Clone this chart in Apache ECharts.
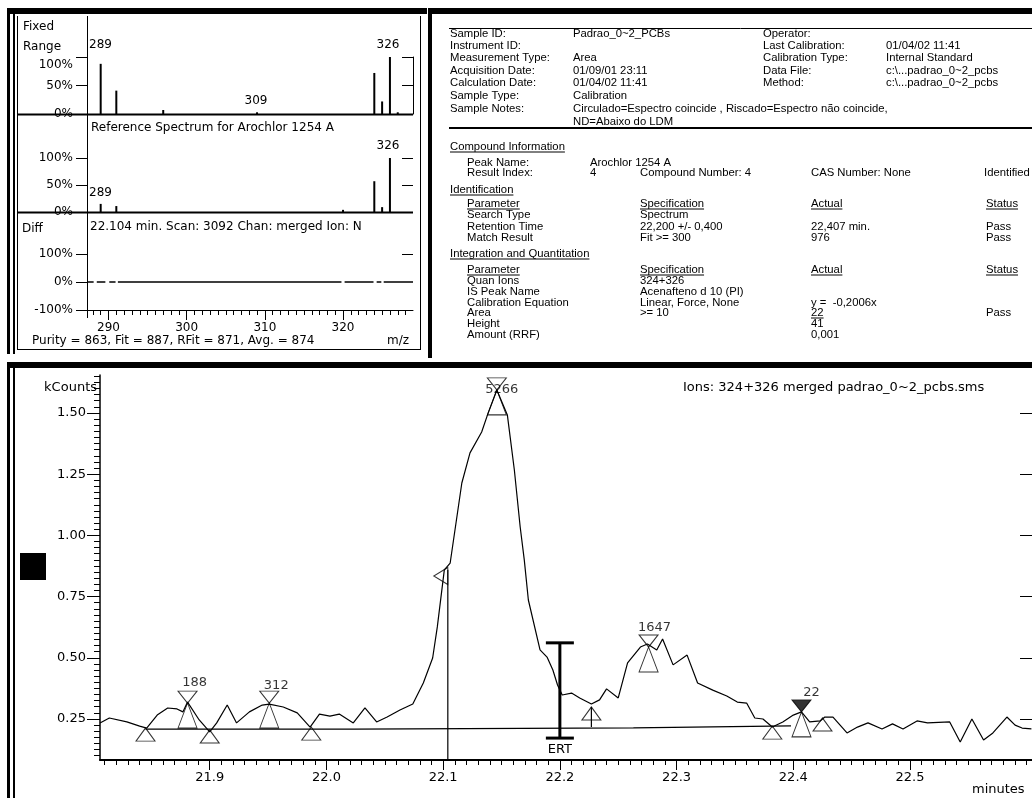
<!DOCTYPE html>
<html>
<head>
<meta charset="utf-8">
<script src="https://cdn.jsdelivr.net/npm/echarts@6/dist/echarts.min.js"></script>
<style>
  html, body { margin: 0; padding: 0; background: #fff; }
  #main { width: 1032px; height: 798px; }
</style>
</head>
<body>
<div id="main"></div>
<script>
// ---- spectrum (m/z, % of base peak) ----
var sampleMz  = [289, 291, 297, 309, 324, 325, 326, 327];
var sampleInt = [88, 41, 7, 3, 72, 22, 100, 3];
var refMz  = [289, 291, 320, 324, 325, 326];
var refInt = [15, 11, 4, 57, 9, 100];
// difference trace, broken where the two spectra differ slightly
var diffMz  = [287.25, 288.1, 288.3, 288.5, 289.6, 289.8, 290.1, 290.9, 291.05, 291.2, 319.8, 320, 320.2, 323.9, 324.1, 324.3, 324.9, 325.05, 325.2, 328.95];
var diffPct = [0, 0, null, 0, 0, null, 0, 0, null, 0, 0, null, 0, 0, null, 0, 0, null, 0, 0];
var mzTickLabels = [290, 300, 310, 320];
var pctTicks = [0, 50, 100];
var diffTicks = [-100, 0, 100];

// ---- chromatogram (minutes, kCounts) ----
var rtTime = [21.806, 21.814, 21.829, 21.840, 21.846, 21.855, 21.864, 21.872, 21.877, 21.881,
  21.891, 21.900, 21.906, 21.915, 21.923, 21.934, 21.945, 21.951, 21.963, 21.975,
  21.986, 21.994, 22.003, 22.011, 22.023, 22.033, 22.043, 22.052, 22.063, 22.074,
  22.083, 22.091, 22.095, 22.101, 22.106, 22.116, 22.123, 22.133, 22.138, 22.146,
  22.155, 22.161, 22.166, 22.1695, 22.173, 22.183, 22.189, 22.194, 22.198, 22.202,
  22.210, 22.217, 22.227, 22.234, 22.240, 22.250, 22.258, 22.269, 22.275, 22.283,
  22.288, 22.297, 22.309, 22.318, 22.331, 22.343, 22.352, 22.360, 22.367, 22.374,
  22.382, 22.391, 22.400, 22.407, 22.414, 22.423, 22.427, 22.434, 22.446, 22.455,
  22.464, 22.476, 22.485, 22.494, 22.506, 22.515, 22.534, 22.543, 22.553, 22.563,
  22.571, 22.583, 22.590, 22.596, 22.604];
var kCounts = [0.234, 0.254, 0.238, 0.221, 0.213, 0.266, 0.295, 0.291, 0.279, 0.319,
  0.246, 0.197, 0.234, 0.307, 0.234, 0.279, 0.307, 0.311, 0.299, 0.275,
  0.217, 0.270, 0.262, 0.270, 0.234, 0.295, 0.238, 0.258, 0.287, 0.311,
  0.397, 0.499, 0.626, 0.859, 0.887, 1.214, 1.337, 1.422, 1.492, 1.594,
  1.492, 1.267, 1.034, 0.900, 0.736, 0.532, 0.503, 0.450, 0.389, 0.348,
  0.356, 0.336, 0.311, 0.328, 0.373, 0.336, 0.479, 0.544, 0.556, 0.532,
  0.577, 0.471, 0.511, 0.397, 0.368, 0.344, 0.319, 0.315, 0.254, 0.250,
  0.217, 0.238, 0.266, 0.279, 0.238, 0.242, 0.258, 0.258, 0.193, 0.217,
  0.234, 0.209, 0.230, 0.209, 0.242, 0.234, 0.238, 0.156, 0.250, 0.164,
  0.193, 0.258, 0.225, 0.213, 0.210];
var baseTime = [21.845, 22.024, 22.024, 22.263, 22.263, 22.398];
var baseVal  = [0.209, 0.209, 0.214, 0.214, 0.222, 0.222];
var peakTime   = [21.881, 21.951, 22.146, 22.276, 22.407];
var peakHeight = [0.315, 0.315, 1.594, 0.544, 0.279];
var peakArea   = ['188', '312', '5266', '1647', '22'];
var boundTime   = [21.845, 21.900, 21.987, 22.227, 22.382, 22.425];
var boundHeight = [0.213, 0.205, 0.217, 0.299, 0.221, 0.254];
var splitTime = 22.227, splitTop = 0.299, splitBottom = 0.217;
var scanTime = 22.104, scanTop = 0.86, cursorVal = 0.834;
var ertTime = 22.2, ertLow = 0.172, ertHigh = 0.561;
var rtTicks = [21.9, 22.0, 22.1, 22.2, 22.3, 22.4, 22.5];
var countTicks = [0.25, 0.5, 0.75, 1.0, 1.25, 1.5];

var MZ_MIN = 287.25, MZ_MAX = 328.95;
var RT_MIN = 21.806, RT_MAX = 22.6045;
var K_MIN = 0.0825, K_MAX = 1.655;

var mzMinor = [];
for (var m = 288; m <= 328; m++) mzMinor.push(m);
var rtMinor = [];
for (var i = 0; i <= 80; i++) rtMinor.push(+(21.81 + i * 0.01).toFixed(2));
var countMinor = [];
for (var j = 4; j <= 66; j++) countMinor.push(+(j * 0.025).toFixed(3));

var F_SMALL = "11.3px 'Liberation Sans'";
var F_LBL = "12px 'DejaVu Sans'";
var F_BIG = "13px 'DejaVu Sans'";

// ---- helpers for frames and free text ----
var g = [];
var mctx = document.createElement('canvas').getContext('2d');
function tw(s, font) { mctx.font = font; return mctx.measureText(s).width; }
function txt(x, y, s, font, align, extra) {
  var st = { text: s, font: font, fill: '#000', align: align || 'left', verticalAlign: 'middle' };
  if (extra) for (var k in extra) st[k] = extra[k];
  g.push({ type: 'text', x: x, y: y, z: 20, silent: true, style: st });
}
function rule(x1, y1, x2, y2, w) {
  g.push({ type: 'line', z: 20, silent: true, shape: { x1: x1, y1: y1, x2: x2, y2: y2 }, style: { stroke: '#000', lineWidth: w || 1 } });
}
function box(x, y, w, h) {
  g.push({ type: 'rect', z: 20, silent: true, shape: { x: x, y: y, width: w, height: h }, style: { fill: '#000' } });
}
function utxt(x, y, s) { // underlined panel text
  txt(x, y, s, F_SMALL);
  rule(x, y + 5, x + tw(s, F_SMALL), y + 5, 1);
}

// window frames
box(7, 8, 3, 346); box(13, 8, 2, 346); box(7, 8, 420, 6);
rule(17.5, 16, 17.5, 349); rule(420.5, 16, 420.5, 349); rule(17, 349.5, 421, 349.5);
box(428, 8, 604, 6); box(428, 8, 4, 350);
box(7, 362, 1025, 6); box(7, 362, 3, 436); box(13, 362, 2, 436);

// spectrum panel separators and long axis line
rule(17, 114.5, 413, 114.5, 2);
rule(17, 212.5, 413, 212.5, 2);
rule(87.5, 16, 87.5, 318, 1);

// spectrum panel texts
txt(23, 27, 'Fixed', F_LBL);
txt(23, 47, 'Range', F_LBL);
txt(89, 45, '289', F_LBL);
txt(388, 45, '326', F_LBL, 'center');
txt(256, 101, '309', F_LBL, 'center');
txt(91, 128, 'Reference Spectrum for Arochlor 1254 A', F_LBL);
txt(388, 146, '326', F_LBL, 'center');
txt(89, 193, '289', F_LBL);
txt(22, 229, 'Diff', F_LBL);
txt(90, 227, '22.104 min. Scan: 3092 Chan: merged Ion: N', F_LBL, 'left', { width: 321, overflow: 'truncate', ellipsis: '' });
txt(32, 341, 'Purity = 863, Fit = 887, RFit = 871, Avg. = 874', F_LBL);
txt(387, 341, 'm/z', F_LBL);

// info panel
rule(449, 28.5, 1032, 28.5, 1);
rule(449, 128, 1032, 128, 2);
var infoY = [34, 46, 58, 71, 83, 96, 109, 122];
var infoLabel = ['Sample ID:', 'Instrument ID:', 'Measurement Type:', 'Acquisition Date:', 'Calculation Date:', 'Sample Type:', 'Sample Notes:', ''];
var infoValue = ['Padrao_0~2_PCBs', '', 'Area', '01/09/01 23:11', '01/04/02 11:41', 'Calibration',
  'Circulado=Espectro coincide , Riscado=Espectro não coincide,', 'ND=Abaixo do LDM'];
var infoLabel2 = ['Operator:', 'Last Calibration:', 'Calibration Type:', 'Data File:', 'Method:', '', '', ''];
var infoValue2 = ['', '01/04/02 11:41', 'Internal Standard', 'c:\\...padrao_0~2_pcbs', 'c:\\...padrao_0~2_pcbs', '', '', ''];
for (var r = 0; r < infoY.length; r++) {
  if (infoLabel[r]) txt(450, infoY[r], infoLabel[r], F_SMALL);
  if (infoValue[r]) txt(573, infoY[r], infoValue[r], F_SMALL);
  if (infoLabel2[r]) txt(763, infoY[r], infoLabel2[r], F_SMALL);
  if (infoValue2[r]) txt(886, infoY[r], infoValue2[r], F_SMALL);
}
utxt(450, 147, 'Compound Information');
txt(467, 163, 'Peak Name:', F_SMALL); txt(590, 163, 'Arochlor 1254 A', F_SMALL);
txt(467, 173, 'Result Index:', F_SMALL); txt(590, 173, '4', F_SMALL);
txt(640, 173, 'Compound Number: 4', F_SMALL); txt(811, 173, 'CAS Number: None', F_SMALL);
txt(984, 173, 'Identified', F_SMALL);
utxt(450, 190, 'Identification');
var colX = [467, 640, 811, 986];
function tableRows(headY, rows) {
  utxt(colX[0], headY, 'Parameter'); utxt(colX[1], headY, 'Specification');
  utxt(colX[2], headY, 'Actual'); utxt(colX[3], headY, 'Status');
  rows.forEach(function (row) {
    for (var c = 0; c < 4; c++) {
      if (!row[c + 1]) continue;
      if (row[c + 1].charAt(0) === '_') utxt(colX[c], row[0], row[c + 1].slice(1));
      else txt(colX[c], row[0], row[c + 1], F_SMALL);
    }
  });
}
tableRows(204, [
  [215, 'Search Type', 'Spectrum', '', ''],
  [227, 'Retention Time', '22,200 +/- 0,400', '22,407 min.', 'Pass'],
  [238, 'Match Result', 'Fit >= 300', '976', 'Pass']
]);
utxt(450, 254, 'Integration and Quantitation');
tableRows(270, [
  [281, 'Quan Ions', '324+326', '', ''],
  [292, 'IS Peak Name', 'Acenafteno d 10 (PI)', '', ''],
  [303, 'Calibration Equation', 'Linear, Force, None', 'y =  -0,2006x', ''],
  [313, 'Area', '>= 10', '_22', 'Pass'],
  [324, 'Height', '', '41', ''],
  [335, 'Amount (RRF)', '', '0,001', '']
]);

// chromatogram texts
box(20, 553, 26, 27);
txt(97, 388, 'kCounts', F_BIG, 'right');
txt(683, 388, 'Ions: 324+326 merged padrao_0~2_pcbs.sms', F_BIG);
txt(972, 790, 'minutes', F_BIG);

// ---- axes ----
var black = { color: '#000' };
function pctLeft(grid, min, max, vals, dropTop) {
  return { type: 'value', gridIndex: grid, min: min, max: max, position: 'left',
    axisLine: { show: false, onZero: false }, splitLine: { show: false },
    axisTick: { show: true, length: 11, customValues: vals, lineStyle: black },
    axisLabel: { customValues: vals, margin: 14, color: '#000', fontFamily: 'DejaVu Sans', fontSize: 12,
      formatter: function (v) { return (dropTop && v === max) ? '{dn|' + v + '%}' : v + '%'; },
      rich: { dn: { padding: [16, 0, 0, 0], color: '#000', fontFamily: 'DejaVu Sans', fontSize: 12 } } } };
}
function pctRight(grid, min, max, vals, line) {
  return { type: 'value', gridIndex: grid, min: min, max: max, position: 'right',
    axisLine: { show: line, onZero: false, lineStyle: black }, splitLine: { show: false },
    axisTick: { show: true, inside: true, length: 11, customValues: vals, lineStyle: black },
    axisLabel: { show: false } };
}
function hiddenX(grid, min, max) {
  return { type: 'value', gridIndex: grid, min: min, max: max, position: 'bottom',
    axisLine: { show: false, onZero: false }, axisTick: { show: false },
    axisLabel: { show: false }, splitLine: { show: false } };
}
function tickX(grid, min, max, vals, len) {
  return { type: 'value', gridIndex: grid, min: min, max: max, position: 'bottom',
    axisLine: { show: false, onZero: false }, splitLine: { show: false },
    axisTick: { show: true, length: len, customValues: vals, lineStyle: black },
    axisLabel: { show: false } };
}

var xAxes = [
  hiddenX(0, MZ_MIN, MZ_MAX),
  hiddenX(1, MZ_MIN, MZ_MAX),
  { type: 'value', gridIndex: 2, min: MZ_MIN, max: MZ_MAX, position: 'bottom',
    axisLine: { show: true, onZero: false, lineStyle: { color: '#000', width: 1 } },
    axisTick: { show: true, length: 10, customValues: mzTickLabels, lineStyle: black },
    axisLabel: { customValues: mzTickLabels, margin: 12, color: '#000', fontFamily: 'DejaVu Sans', fontSize: 12 },
    splitLine: { show: false } },
  tickX(2, MZ_MIN, MZ_MAX, mzMinor, 5),
  { type: 'value', gridIndex: 3, min: RT_MIN, max: RT_MAX, position: 'bottom',
    axisLine: { show: true, onZero: false, lineStyle: { color: '#000', width: 2 } },
    axisTick: { show: true, length: 10, customValues: rtTicks, lineStyle: black },
    axisLabel: { customValues: rtTicks, formatter: function (v) { return v.toFixed(1); }, margin: 11,
      color: '#000', fontFamily: 'DejaVu Sans', fontSize: 13 },
    splitLine: { show: false } },
  tickX(3, RT_MIN, RT_MAX, rtMinor, 5)
];

var yAxes = [
  pctLeft(0, 0, 100, pctTicks, true),
  pctRight(0, 0, 100, [50, 100], true),
  pctLeft(1, 0, 100, pctTicks, false),
  pctRight(1, 0, 100, [50, 100], false),
  pctLeft(2, -100, 100, diffTicks, false),
  pctRight(2, -100, 100, [100], false),
  { type: 'value', gridIndex: 3, min: K_MIN, max: K_MAX, position: 'left',
    axisLine: { show: true, onZero: false, lineStyle: { color: '#000', width: 1.5 } },
    axisTick: { show: true, length: 13, customValues: countTicks, lineStyle: black },
    axisLabel: { customValues: countTicks, formatter: function (v) { return v.toFixed(2); }, margin: 14,
      color: '#000', fontFamily: 'DejaVu Sans', fontSize: 13 },
    splitLine: { show: false } },
  { type: 'value', gridIndex: 3, min: K_MIN, max: K_MAX, position: 'left',
    axisLine: { show: false, onZero: false }, splitLine: { show: false },
    axisTick: { show: true, length: 6, customValues: countMinor, lineStyle: black },
    axisLabel: { show: false } },
  { type: 'value', gridIndex: 3, min: K_MIN, max: K_MAX, position: 'right',
    axisLine: { show: false, onZero: false }, splitLine: { show: false },
    axisTick: { show: true, inside: true, length: 12, customValues: countTicks, lineStyle: black },
    axisLabel: { show: false } }
];

// ---- series ----
function pairs(xs, ys) { return xs.map(function (x, k) { return [x, ys[k] == null ? '-' : ys[k]]; }); }
var DOWN = 'path://M0,0L2,0L1,1Z';
var UP = 'path://M1,0L2,1L0,1Z';
var LEFT = 'path://M0,1L2,0L2,2Z';
var hollow = { color: 'rgba(0,0,0,0)', borderColor: '#000', borderWidth: 1 };
var peakLabelOffset = [[7, -20], [7, -17], [5, 0], [6, -19], [10, -19]];
function onRT(s) { s.xAxisIndex = 4; s.yAxisIndex = 6; return s; }
var traceStyle = { color: '#000', width: 1.2 };

var series = [
  { type: 'bar', xAxisIndex: 0, yAxisIndex: 0, barWidth: 2, itemStyle: { color: '#000' },
    data: pairs(sampleMz, sampleInt) },
  { type: 'bar', xAxisIndex: 1, yAxisIndex: 2, barWidth: 2, itemStyle: { color: '#000' },
    data: pairs(refMz, refInt) },
  { type: 'line', xAxisIndex: 2, yAxisIndex: 4, showSymbol: false, symbol: 'none', connectNulls: false,
    lineStyle: { color: '#000', width: 1.5 }, data: pairs(diffMz, diffPct) },
  onRT({ type: 'line', symbol: 'none', lineStyle: traceStyle, data: pairs(rtTime, kCounts), z: 3 }),
  onRT({ type: 'line', symbol: 'none', lineStyle: traceStyle, data: pairs(baseTime, baseVal), z: 3 }),
  onRT({ type: 'line', symbol: 'none', lineStyle: traceStyle, data: [[scanTime, K_MIN], [scanTime, scanTop]], z: 3 }),
  onRT({ type: 'line', symbol: 'none', lineStyle: traceStyle, data: [[splitTime, splitTop], [splitTime, splitBottom]], z: 3 }),
  onRT({ type: 'scatter', symbol: DOWN, symbolSize: [19, 12], symbolOffset: [0, -6], z: 4,
    data: peakTime.map(function (t, k) {
      var last = k === peakTime.length - 1;
      return { value: [t, peakHeight[k]], itemStyle: last ? { color: '#000', borderColor: '#000', borderWidth: 1 } : hollow };
    }) }),
  onRT({ type: 'scatter', symbol: UP, symbolSize: [19, 25], symbolOffset: [0, 12.5], itemStyle: hollow, z: 4,
    data: pairs(peakTime, peakHeight) }),
  onRT({ type: 'scatter', symbol: UP, symbolSize: [19, 13], symbolOffset: [0, 6.5], itemStyle: hollow, z: 4,
    data: pairs(boundTime, boundHeight) }),
  onRT({ type: 'scatter', symbol: LEFT, symbolSize: [14, 17], symbolOffset: [-7, 0], itemStyle: hollow, z: 4,
    data: [[scanTime, cursorVal]] }),
  onRT({ type: 'scatter', symbolSize: 1, itemStyle: { color: 'rgba(0,0,0,0)' }, z: 5,
    data: peakTime.map(function (t, k) {
      return { value: [t, peakHeight[k]], label: { show: true, position: 'inside', offset: peakLabelOffset[k],
        formatter: peakArea[k], color: '#000', fontFamily: 'DejaVu Sans', fontSize: 13 } };
    }) }),
  onRT({ type: 'custom', z: 4, data: [[ertTime, ertLow, ertHigh]],
    renderItem: function (params, api) {
      var lo = api.coord([api.value(0), api.value(1)]);
      var hi = api.coord([api.value(0), api.value(2)]);
      var st = { stroke: '#000', lineWidth: 3 };
      return { type: 'group', children: [
        { type: 'line', shape: { x1: lo[0], y1: lo[1], x2: hi[0], y2: hi[1] }, style: st },
        { type: 'line', shape: { x1: lo[0] - 14, y1: lo[1], x2: lo[0] + 14, y2: lo[1] }, style: st },
        { type: 'line', shape: { x1: hi[0] - 14, y1: hi[1], x2: hi[0] + 14, y2: hi[1] }, style: st },
        { type: 'text', x: lo[0], y: lo[1] + 5, style: { text: 'ERT', fill: '#000', font: F_BIG, align: 'center', verticalAlign: 'top' } }
      ] };
    } })
];

var chart = echarts.init(document.getElementById('main'));
var option = {
  animation: false,
  backgroundColor: '#fff',
  tooltip: { show: false },
  grid: [
    { left: 87, top: 57, width: 326, height: 57, outerBoundsMode: 'none' },
    { left: 87, top: 158, width: 326, height: 54, outerBoundsMode: 'none' },
    { left: 87, top: 254, width: 326, height: 56, outerBoundsMode: 'none' },
    { left: 100, top: 375, width: 932, height: 385, outerBoundsMode: 'none' }
  ],
  xAxis: xAxes,
  yAxis: yAxes,
  series: series,
  graphic: g
};
chart.setOption(option);
</script>
</body>
</html>
